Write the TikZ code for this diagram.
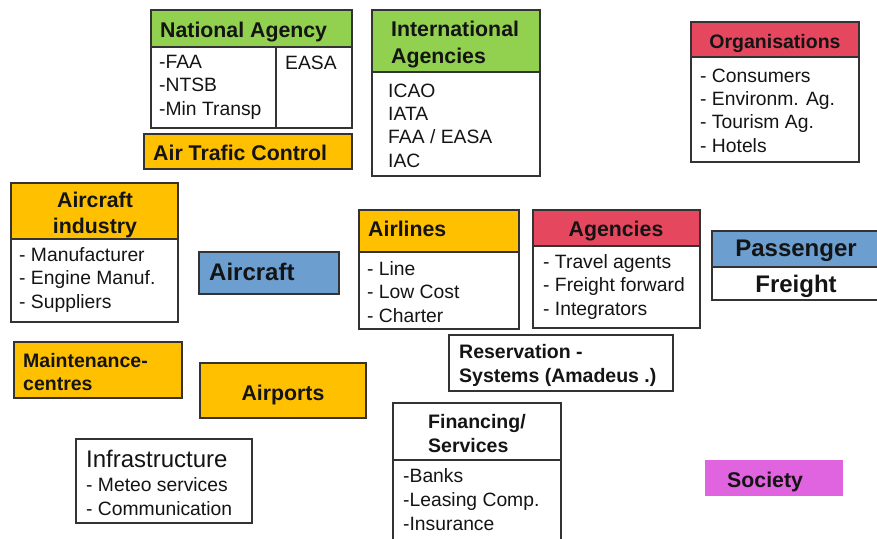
\documentclass[tikz,border=0pt]{standalone}
\usepackage{fontspec}
\setmainfont{Liberation Sans}
\definecolor{hgreen}{HTML}{92D050}
\definecolor{horange}{HTML}{FFC000}
\definecolor{hred}{HTML}{E5475F}
\definecolor{hblue}{HTML}{6C9FCF}
\definecolor{hmag}{HTML}{E064E0}
\definecolor{bcol}{HTML}{333333}
\definecolor{tcol}{HTML}{141414}
\tikzset{
  frame/.style={draw=bcol, line width=1.4pt},
  txt/.style={inner sep=0pt, text=tcol, anchor=base west},
  hd/.style={txt, font=\fontsize{21.3}{26.5}\selectfont\bfseries, align=left},
  hdc/.style={hd, anchor=base, align=center},
  hdm/.style={txt, font=\fontsize{19.5}{24}\selectfont\bfseries, align=left},
  hdbig/.style={txt, font=\fontsize{24}{28}\selectfont\bfseries, anchor=base},
  bd/.style={txt, font=\fontsize{19.3}{23.3}\selectfont, align=left},
}
\begin{document}
\begin{tikzpicture}[x=1pt,y=-1pt]
\useasboundingbox (0,0) rectangle (877,538);
% (multi-line nodes are placed at the baseline of their last line)
% National Agency
\fill[hgreen] (151,10) rectangle (352,47);
\draw[frame] (151,10) rectangle (352,128);
\draw[frame] (151,47) -- (352,47);
\draw[frame] (276,47) -- (276,128);
\node[hd] (na) at (160,37) {National Agency};
\node[bd] (nab) at (159,115) {-FAA\\-NTSB\\-Min Transp};
\node[bd] (nae) at (285,69) {EASA};
% Air Trafic Control
\filldraw[frame, fill=horange] (144,134) rectangle (352,169);
\node[hd] (atc) at (153,160) {Air Trafic Control};
% International Agencies
\fill[hgreen] (372,10) rectangle (540,72);
\draw[frame] (372,10) rectangle (540,176);
\draw[frame] (372,72) -- (540,72);
\node[hd] (ia) at (391,63) {International\\Agencies};
\node[bd] (iab) at (388,167) {ICAO\\IATA\\FAA / EASA\\IAC};
% Organisations
\fill[hred] (691,22) rectangle (859,57);
\draw[frame] (691,22) rectangle (859,162);
\draw[frame] (691,57) -- (859,57);
\node[hdm, anchor=base] (org) at (775,48) {Organisations};
\node[bd] (orgb) at (700,152) {- Consumers\\- Environm. Ag.\\- Tourism Ag.\\- Hotels};
% Aircraft industry
\fill[horange] (11,183) rectangle (178,239);
\draw[frame] (11,183) rectangle (178,322);
\draw[frame] (11,239) -- (178,239);
\node[hdc, font=\fontsize{21.3}{26}\selectfont\bfseries] (ai) at (95,233) {Aircraft\\industry};
\node[bd] (aib) at (19,308) {- Manufacturer\\- Engine Manuf.\\- Suppliers};
% Aircraft
\filldraw[frame, fill=hblue] (199,252) rectangle (339,294);
\node[hdbig, anchor=base west] (ac) at (209,280) {Aircraft};
% Maintenance
\filldraw[frame, fill=horange] (14,342) rectangle (182,398);
\node[hdm, font=\fontsize{19.5}{23}\selectfont\bfseries] (mc) at (23,390) {Maintenance-\\centres};
% Airports
\filldraw[frame, fill=horange] (200,363) rectangle (366,418);
\node[hd, anchor=base] (ap) at (283,400) {Airports};
% Airlines
\fill[horange] (359,210) rectangle (519,252);
\draw[frame] (359,210) rectangle (519,329);
\draw[frame] (359,252) -- (519,252);
\node[hd] (al) at (368,236) {Airlines};
\node[bd] (alb) at (367,322) {- Line\\- Low Cost\\- Charter};
% Agencies
\fill[hred] (533,210) rectangle (700,246);
\draw[frame] (533,210) rectangle (700,328);
\draw[frame] (533,246) -- (700,246);
\node[hd, anchor=base] (ag) at (616,236) {Agencies};
\node[bd] (agb) at (543,315) {- Travel agents\\- Freight forward\\- Integrators};
% Reservation
\filldraw[frame, fill=white] (449,335) rectangle (673,391);
\node[hdm] (rs) at (459,382) {Reservation -\\Systems (Amadeus .)};
% Passenger / Freight
\fill[hblue] (712,231) rectangle (880,267);
\draw[frame] (712,231) rectangle (880,300);
\draw[frame] (712,267) -- (880,267);
\node[hdbig] (pa) at (796,256) {Passenger};
\node[hdbig] (fr) at (796,292) {Freight};
% Infrastructure
\draw[frame] (76,439) rectangle (252,523);
\node[txt, font=\fontsize{24}{28}\selectfont] (inf) at (86,467) {Infrastructure};
\node[bd] (infb) at (86,515) {- Meteo services\\- Communication};
% Financing
\draw[frame] (393,403) rectangle (561,548);
\draw[frame] (393,460) -- (561,460);
\node[hdm] (fin) at (428,452) {Financing/\\Services};
\node[bd, font=\fontsize{19.3}{24}\selectfont] (finb) at (403,530) {-Banks\\-Leasing Comp.\\-Insurance};
% Society
\fill[hmag] (705,460) rectangle (843,496);
\node[hd] (soc) at (727,487) {Society};
\end{tikzpicture}
\end{document}
